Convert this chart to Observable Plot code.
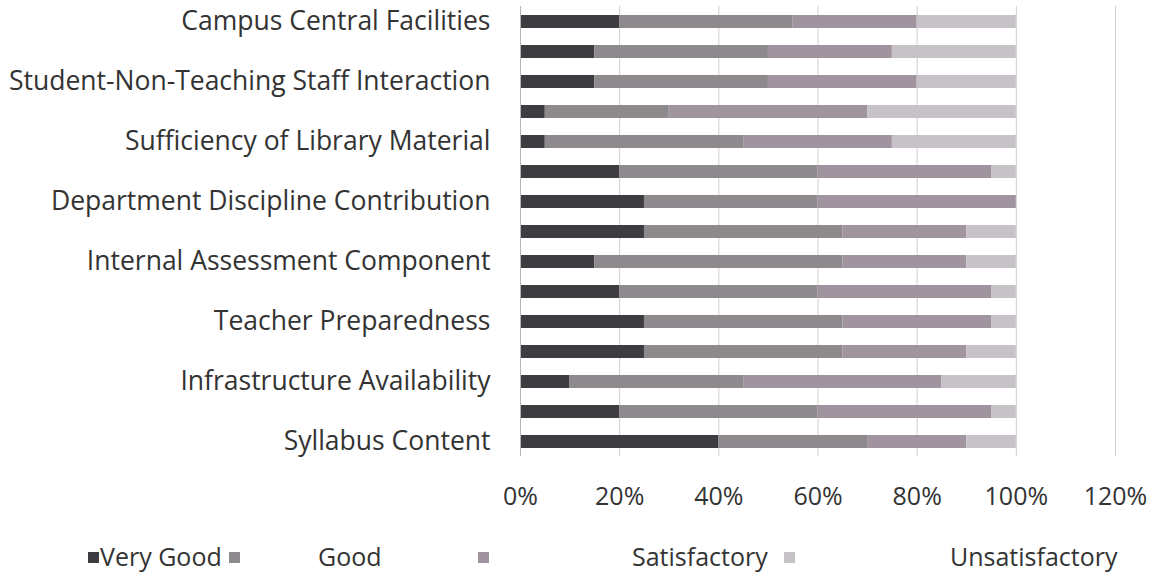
<!DOCTYPE html>
<html>
<head>
<meta charset="utf-8">
<script src="https://cdn.jsdelivr.net/npm/d3@7"></script>
<script src="https://cdn.jsdelivr.net/npm/@observablehq/plot@0.6"></script>
<style>
  html, body { margin: 0; padding: 0; background: #ffffff; }
  #wrap { position: relative; width: 1161px; height: 583px; font-family: "Open Sans", Lato, sans-serif; color: #333; }
  #legend { position: relative; width: 1161px; height: 63px; font-size: 25px; }
  #legend .sw { position: absolute; width: 11px; height: 11px; top: 32px; }
  #legend .lb { position: absolute; top: 21px; line-height: 30px; white-space: nowrap; }
</style>
</head>
<body>
<div id="wrap">
  <div id="chart"></div>
  <div id="legend"></div>
</div>
<script>
// Categories, top to bottom (only every other one is labelled in the source chart)
const categories = [
  "Campus Central Facilities",
  "Item 2",
  "Student-Non-Teaching Staff Interaction",
  "Item 4",
  "Sufficiency of Library Material",
  "Item 6",
  "Department Discipline Contribution",
  "Item 8",
  "Internal Assessment Component",
  "Item 10",
  "Teacher Preparedness",
  "Item 12",
  "Infrastructure Availability",
  "Item 14",
  "Syllabus Content"
];
const labelledCategories = [
  "Campus Central Facilities",
  "Student-Non-Teaching Staff Interaction",
  "Sufficiency of Library Material",
  "Department Discipline Contribution",
  "Internal Assessment Component",
  "Teacher Preparedness",
  "Infrastructure Availability",
  "Syllabus Content"
];
const seriesNames = ["Very Good", "Good", "Satisfactory", "Unsatisfactory"];
// percentages per category (same order as categories)
const veryGood       = [20, 15, 15,  5,  5, 20, 25, 25, 15, 20, 25, 25, 10, 20, 40];
const good           = [35, 35, 35, 25, 40, 40, 35, 40, 50, 40, 40, 40, 35, 40, 30];
const satisfactory   = [25, 25, 30, 40, 30, 35, 40, 25, 25, 35, 30, 25, 40, 35, 20];
const unsatisfactory = [20, 25, 20, 30, 25,  5,  0, 10, 10,  5,  5, 10, 15,  5, 10];
const xTicks = [0, 0.2, 0.4, 0.6, 0.8, 1.0, 1.2];
const seriesColors = ["#3d3d41", "#8d898d", "#a0949f", "#c6c2c7"];

const seriesValues = [veryGood, good, satisfactory, unsatisfactory];
const rows = [];
categories.forEach((c, i) => {
  seriesNames.forEach((s, k) => {
    rows.push({category: c, series: s, value: seriesValues[k][i] / 100});
  });
});

const chart = Plot.plot({
  width: 1161,
  height: 520,
  marginLeft: 520,
  marginRight: 46,
  marginTop: 6,
  marginBottom: 64,
  style: {fontFamily: "'Open Sans', Lato, sans-serif", fontSize: "22px", color: "#333", background: "#fff"},
  x: {domain: [0, 1.2], axis: null},
  y: {domain: categories, paddingInner: 0.57, paddingOuter: 0.285, axis: null},
  color: {domain: seriesNames, range: seriesColors},
  marks: [
    Plot.ruleX(xTicks.slice(1), {stroke: "#cfcfcf", strokeWidth: 1}),
    Plot.barX(rows, Plot.stackX({x: "value", y: "category", fill: "series", order: seriesNames})),
    Plot.ruleX([0], {stroke: "#b5b5b5", strokeWidth: 1}),
    Plot.axisY({ticks: labelledCategories, label: null, tickSize: 0, tickPadding: 30, fontSize: 26.5, fill: "#333"}),
    Plot.axisX({ticks: xTicks, label: null, tickFormat: d3.format(".0%"), tickSize: 0, tickPadding: 31, fontSize: 25, fill: "#333"})
  ]
});
document.getElementById("chart").appendChild(chart);

// Legend (positions mimic the source layout)
const legendItems = [
  {name: "Very Good", sw: 88, lb: 100},
  {name: "Good", sw: 229, lb: 318},
  {name: "Satisfactory", sw: 478, lb: 632},
  {name: "Unsatisfactory", sw: 784, lb: 950}
];
const legend = d3.select("#legend");
legendItems.forEach((it, k) => {
  legend.append("div").attr("class", "sw").style("left", it.sw + "px").style("background", seriesColors[k]);
  legend.append("div").attr("class", "lb").style("left", it.lb + "px").text(it.name);
});
</script>
</body>
</html>
